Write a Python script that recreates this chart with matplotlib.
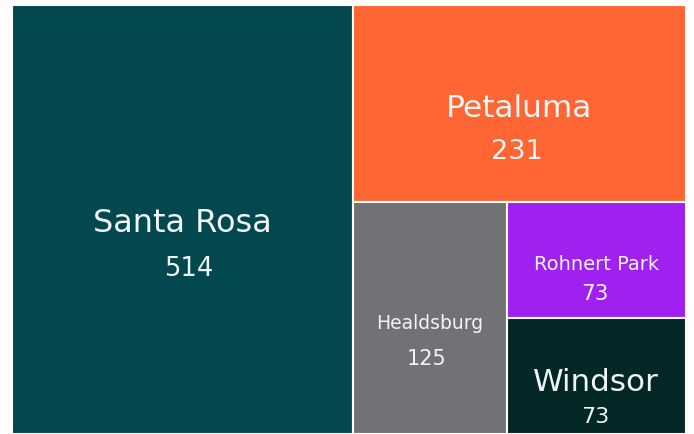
import matplotlib
matplotlib.use("Agg")
import matplotlib.pyplot as plt
from matplotlib.patches import Rectangle

# data
names = ["Santa Rosa", "Petaluma", "Healdsburg", "Rohnert Park", "Windsor"]
values = [514, 231, 125, 73, 73]

# style
colors = ["#03484E", "#FF6633", "#727175", "#A020F0", "#032626"]
name_sizes = [23, 22.5, 13.5, 14, 22.3]
value_sizes = [18.5, 19.5, 15, 15.5, 16]
name_dy = [0.2, 1.3, 2.7, 1.8, 3.0]      # px below tile centre (cap centre)
value_dy = [46, 44, 38.5, 31, 38]
value_dx = [6, -2.5, -3, -1, -1]
text_color = "#F0F5F5"

W, H = 674.0, 429.0   # tile area in pixels


def worst(row, length):
    s = sum(row)
    return max(max(length**2 * r / s**2, s**2 / (length**2 * r)) for r in row)


def squarify(sizes, x, y, w, h):
    rects = []
    sizes = list(sizes)
    while sizes:
        length = min(w, h)
        row = [sizes[0]]
        i = 1
        while i < len(sizes) and worst(row + [sizes[i]], length) <= worst(row, length):
            row.append(sizes[i])
            i += 1
        s = sum(row)
        if w >= h:
            cw = s / h
            yy = y
            for r in row:
                rects.append((x, yy, cw, r / cw))
                yy += r / cw
            x += cw
            w -= cw
        else:
            rh = s / w
            xx = x
            for r in row:
                rects.append((xx, y, r / rh, rh))
                xx += r / rh
            y += rh
            h -= rh
        sizes = sizes[i:]
    return rects


total = float(sum(values))
areas = [v / total * W * H for v in values]
rects = squarify(areas, 0, 0, W, H)

fig = plt.figure(figsize=(6.94, 4.35), dpi=100)
ax = fig.add_axes([12 / 694, 0, W / 694, H / 435])
ax.set_xlim(0, W)
ax.set_ylim(H, 0)
ax.axis("off")

for (x, y, w, h), nm, v, c, ns, vs, ndy, vdy, vdx in zip(rects, names, values, colors,
                                                          name_sizes, value_sizes,
                                                          name_dy, value_dy, value_dx):
    ax.add_patch(Rectangle((x, y), w, h, facecolor=c, edgecolor="white", linewidth=1.5))
    cx = x + w / 2
    cy = y + h / 2
    # baseline = cap centre + half cap height (cap ~0.73 em)
    ncap = ns * 100 / 72 * 0.73
    vcap = vs * 100 / 72 * 0.73
    ax.text(cx, cy + ndy + ncap / 2, nm, ha="center", va="baseline",
            fontsize=ns, color=text_color, family="DejaVu Sans")
    ax.text(cx + vdx, cy + vdy + vcap / 2, str(v), ha="center", va="baseline",
            fontsize=vs, color=text_color, family="DejaVu Sans")

fig.savefig("out.png", dpi=100)
